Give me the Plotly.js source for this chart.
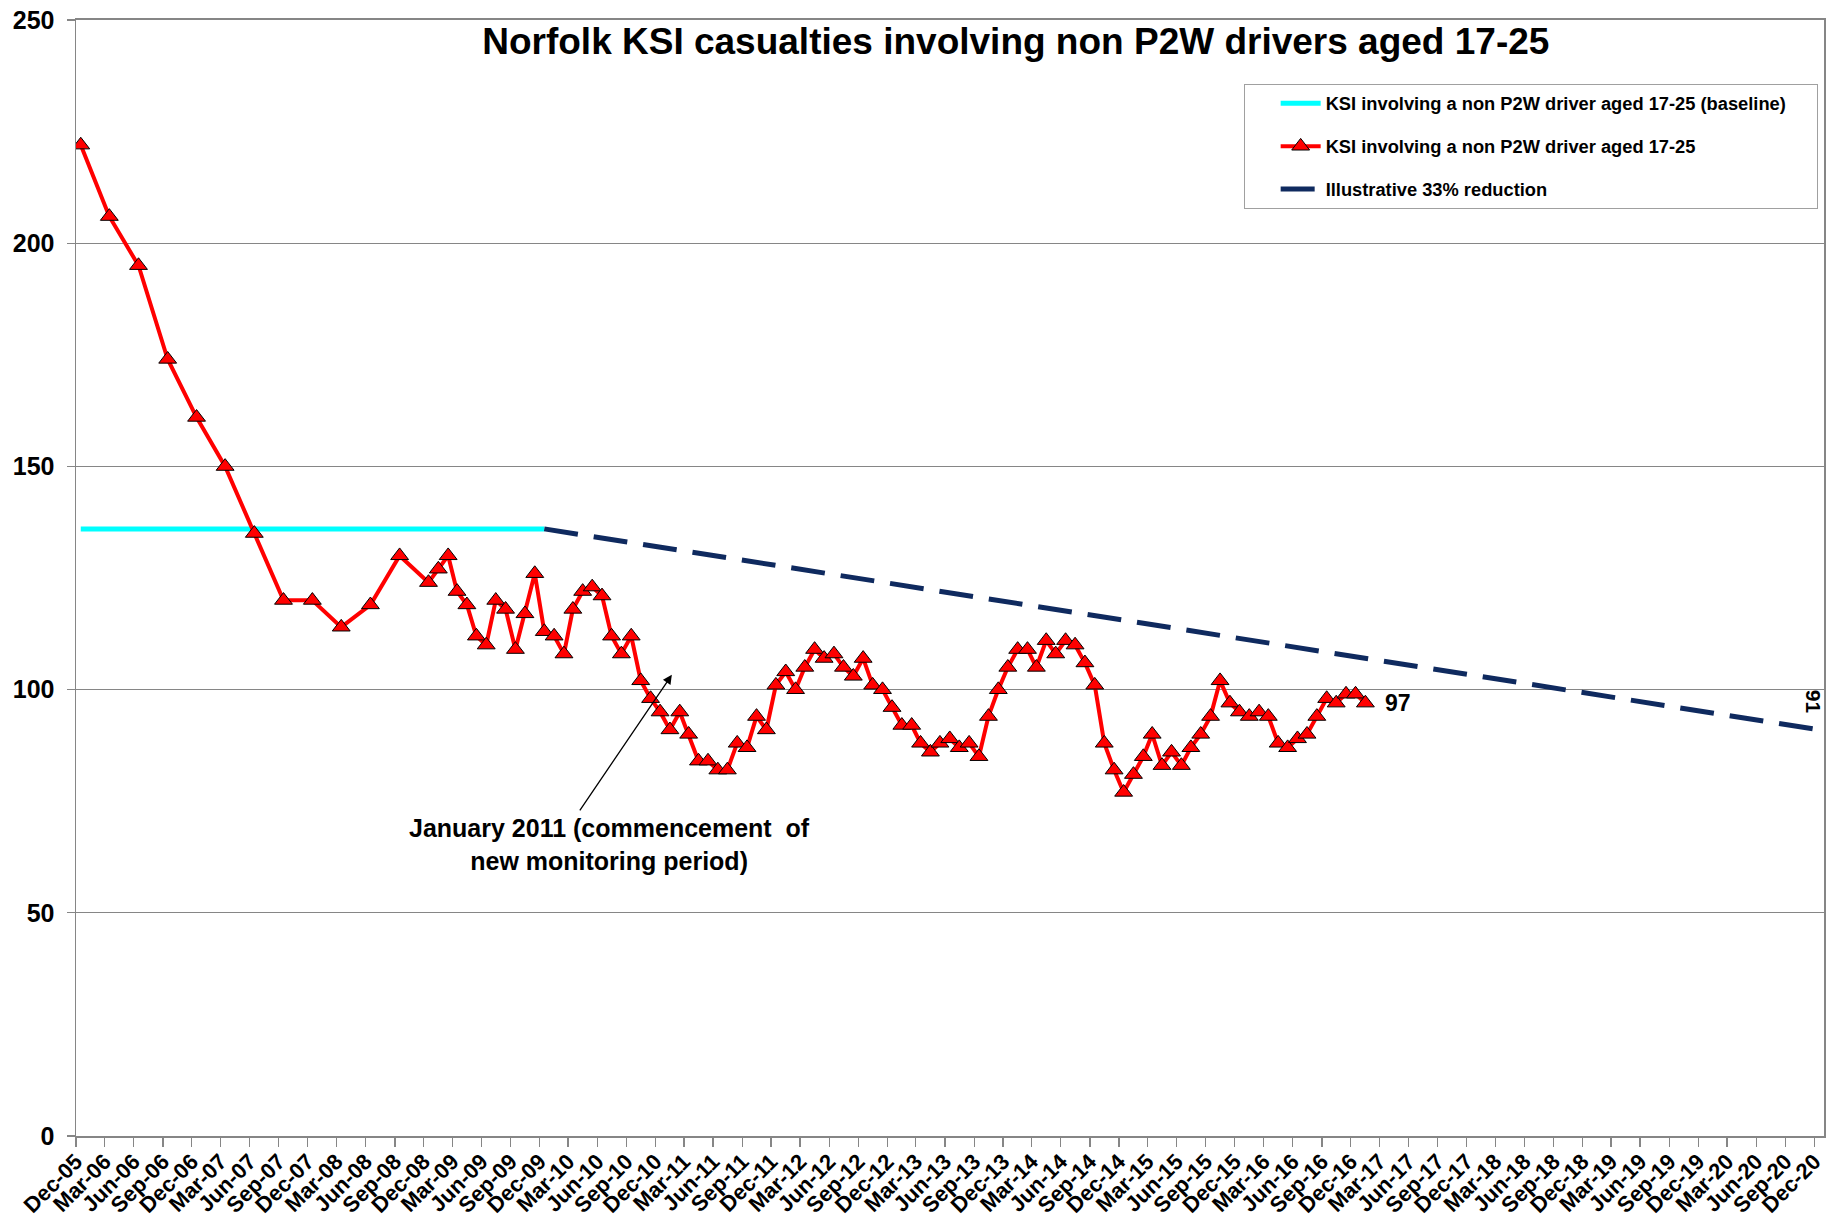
<!DOCTYPE html>
<html>
<head>
<meta charset="utf-8">
<script src="https://cdn.plot.ly/plotly-3.0.1.min.js"></script>
<style>html,body{margin:0;padding:0;background:#fff;}#chart{width:1827px;height:1221px;}</style>
</head>
<body>
<div id="chart"></div>
<script>
// ---- Data ----
const quarterlyDates = ['2005-12','2006-03','2006-06','2006-09','2006-12','2007-03','2007-06','2007-09','2007-12','2008-03','2008-06','2008-09'];
const quarterlyValues = [222,206,195,174,161,150,135,120,120,114,119,130];

const monthlyDates = ['2008-12',
 '2009-01','2009-02','2009-03','2009-04','2009-05','2009-06','2009-07','2009-08','2009-09','2009-10','2009-11','2009-12',
 '2010-01','2010-02','2010-03','2010-04','2010-05','2010-06','2010-07','2010-08','2010-09','2010-10','2010-11','2010-12',
 '2011-01','2011-02','2011-03','2011-04','2011-05','2011-06','2011-07','2011-08','2011-09','2011-10','2011-11','2011-12',
 '2012-01','2012-02','2012-03','2012-04','2012-05','2012-06','2012-07','2012-08','2012-09','2012-10','2012-11','2012-12',
 '2013-01','2013-02','2013-03','2013-04','2013-05','2013-06','2013-07','2013-08','2013-09','2013-10','2013-11','2013-12',
 '2014-01','2014-02','2014-03','2014-04','2014-05','2014-06','2014-07','2014-08','2014-09','2014-10','2014-11','2014-12',
 '2015-01','2015-02','2015-03','2015-04','2015-05','2015-06','2015-07','2015-08','2015-09','2015-10','2015-11','2015-12',
 '2016-01','2016-02','2016-03','2016-04','2016-05','2016-06','2016-07','2016-08','2016-09','2016-10','2016-11','2016-12',
 '2017-01'];
const monthlyValues = [124,
 127,130,122,119,112,110,120,118,109,117,126,113,
 112,108,118,122,123,121,112,108,112,102,98,95,
 91,95,90,84,84,82,82,88,87,94,91,101,
 104,100,105,109,107,108,105,103,107,101,100,96,
 92,92,88,86,88,89,87,88,85,94,100,105,
 109,109,105,111,108,111,110,106,101,88,82,77,
 81,85,90,83,86,83,87,90,94,102,97,95,
 94,95,94,88,87,89,90,94,98,97,99,99,
 97];

const baselineDates = ['2005-12','2009-12'];
const baselineValues = [136,136];

const reductionDates = ['2009-12','2020-12'];
const reductionValues = [136,91];

const tickDates = ['2005-12','2006-03','2006-06','2006-09','2006-12','2007-03','2007-06','2007-09','2007-12',
 '2008-03','2008-06','2008-09','2008-12','2009-03','2009-06','2009-09','2009-12','2010-03','2010-06','2010-09','2010-12',
 '2011-03','2011-06','2011-09','2011-12','2012-03','2012-06','2012-09','2012-12','2013-03','2013-06','2013-09','2013-12',
 '2014-03','2014-06','2014-09','2014-12','2015-03','2015-06','2015-09','2015-12','2016-03','2016-06','2016-09','2016-12',
 '2017-03','2017-06','2017-09','2017-12','2018-03','2018-06','2018-09','2018-12','2019-03','2019-06','2019-09','2019-12',
 '2020-03','2020-06','2020-09','2020-12'];
const tickLabels = ['Dec-05','Mar-06','Jun-06','Sep-06','Dec-06','Mar-07','Jun-07','Sep-07','Dec-07',
 'Mar-08','Jun-08','Sep-08','Dec-08','Mar-09','Jun-09','Sep-09','Dec-09','Mar-10','Jun-10','Sep-10','Dec-10',
 'Mar-11','Jun-11','Sep-11','Dec-11','Mar-12','Jun-12','Sep-12','Dec-12','Mar-13','Jun-13','Sep-13','Dec-13',
 'Mar-14','Jun-14','Sep-14','Dec-14','Mar-15','Jun-15','Sep-15','Dec-15','Mar-16','Jun-16','Sep-16','Dec-16',
 'Mar-17','Jun-17','Sep-17','Dec-17','Mar-18','Jun-18','Sep-18','Dec-18','Mar-19','Jun-19','Sep-19','Dec-19',
 'Mar-20','Jun-20','Sep-20','Dec-20'];

const titleText = 'Norfolk KSI casualties involving non P2W drivers aged 17-25';
const seriesNames = ['KSI involving a non P2W driver aged 17-25 (baseline)',
                     'KSI involving a non P2W driver aged 17-25',
                     'Illustrative 33% reduction'];
const noteText = 'January 2011 (commencement  of<br>new monitoring period)';

// ---- Chart ----
const FONT = 'Arial, "Liberation Sans", sans-serif';
const GRID = '#868686';
const PAD = '\u00a0\u00a0\u00a0\u00a0\u00a0'; // widens the legend box to the reference's width

// Ticks sit on month-slot boundaries (half a month before each point), like Excel's "between tick marks"
function slotStart(ym) {
  const t = Date.parse(ym + '-01T00:00:00Z') - 15 * 864e5;
  return new Date(t).toISOString().slice(0, 19).replace('T', ' ');
}
const tickVals = tickDates.map(slotStart);

const ksiDates = quarterlyDates.concat(monthlyDates);
const ksiValues = quarterlyValues.concat(monthlyValues);

const traces = [
  {
    x: baselineDates, y: baselineValues, type: 'scatter', mode: 'lines',
    name: seriesNames[0] + PAD, legendgroup: 'a',
    line: {color: '#00FFFF', width: 5}, hoverinfo: 'skip'
  },
  {
    x: ksiDates, y: ksiValues, type: 'scatter', mode: 'lines+markers',
    name: seriesNames[1], legendgroup: 'b',
    line: {color: '#FF0000', width: 4},
    marker: {symbol: 'triangle-up', size: 15.5, color: '#FF0000', line: {color: '#000000', width: 1}},
    hoverinfo: 'skip'
  },
  {
    x: reductionDates, y: reductionValues, type: 'scatter', mode: 'lines',
    name: seriesNames[2], legendgroup: 'c',
    line: {color: '#0f2a5f', width: 5, dash: '34px,16px'}, hoverinfo: 'skip'
  }
];

const lastIdx = ksiDates.length - 1;
const lastRed = reductionDates.length - 1;

const layout = {
  width: 1827, height: 1221,
  margin: {l: 76, r: 3, t: 20, b: 85},
  paper_bgcolor: '#ffffff', plot_bgcolor: '#ffffff',
  font: {family: FONT, color: '#000000'},
  title: {
    text: titleText, xref: 'container', yref: 'container',
    x: 0.556, xanchor: 'center', y: 1 - 41.5 / 1221, yanchor: 'middle',
    font: {family: FONT, size: 37, weight: 'bold', color: '#000000'}
  },
  showlegend: true,
  legend: {
    x: 0.668, y: 0.9427, xanchor: 'left', yanchor: 'top',
    bgcolor: '#ffffff', bordercolor: '#a0a0a0', borderwidth: 1,
    font: {family: FONT, size: 18.3, weight: 'bold', color: '#000000'},
    itemwidth: 40, tracegroupgap: 16, indentation: 31,
    traceorder: 'grouped'
  },
  xaxis: {
    type: 'date',
    range: ['2005-11-16', '2020-12-16 12:00'],
    tickmode: 'array', tickvals: tickVals, ticktext: tickLabels,
    tickangle: -45,
    tickfont: {family: FONT, size: 22, weight: 'bold', color: '#000000'},
    ticks: 'outside', ticklen: 9, tickwidth: 1.3, tickcolor: GRID,
    ticklabelstandoff: -7,
    showgrid: false, zeroline: false,
    showline: true, linecolor: GRID, linewidth: 2, mirror: true,
    fixedrange: true
  },
  yaxis: {
    range: [0, 250], tick0: 0, dtick: 50, tickmode: 'linear',
    tickfont: {family: FONT, size: 25, weight: 'bold', color: '#000000'},
    ticks: 'outside', ticklen: 8, tickwidth: 1.3, tickcolor: GRID,
    ticklabelstandoff: 7,
    showgrid: true, gridcolor: GRID, gridwidth: 1.3,
    zeroline: false,
    showline: true, linecolor: GRID, linewidth: 1.5, mirror: true,
    fixedrange: true
  },
  annotations: [
    {
      x: ksiDates[lastIdx], y: ksiValues[lastIdx], xref: 'x', yref: 'y',
      text: String(ksiValues[lastIdx]), showarrow: false,
      xanchor: 'left', yanchor: 'middle', xshift: 18,
      font: {family: FONT, size: 23, weight: 'bold', color: '#000000'}
    },
    {
      x: reductionDates[lastRed], y: reductionValues[lastRed], xref: 'x', yref: 'y',
      text: String(reductionValues[lastRed]), showarrow: false, textangle: 90,
      xanchor: 'center', yanchor: 'middle', yshift: 28, xshift: -6,
      font: {family: FONT, size: 21, weight: 'bold', color: '#000000'}
    },
    {
      x: '2011-01-07', y: 103.3, xref: 'x', yref: 'y',
      text: '', showarrow: true, ax: -93, ay: 137,
      arrowhead: 2, arrowsize: 1.4, arrowwidth: 1.3, arrowcolor: '#000000', standoff: 0
    },
    {
      x: '2010-06-25', y: 65.2, xref: 'x', yref: 'y',
      text: noteText, showarrow: false, align: 'center',
      xanchor: 'center', yanchor: 'middle',
      font: {family: FONT, size: 25, weight: 'bold', color: '#000000'}
    }
  ]
};

Plotly.newPlot('chart', traces, layout, {displayModeBar: false, staticPlot: true});
</script>
</body>
</html>
